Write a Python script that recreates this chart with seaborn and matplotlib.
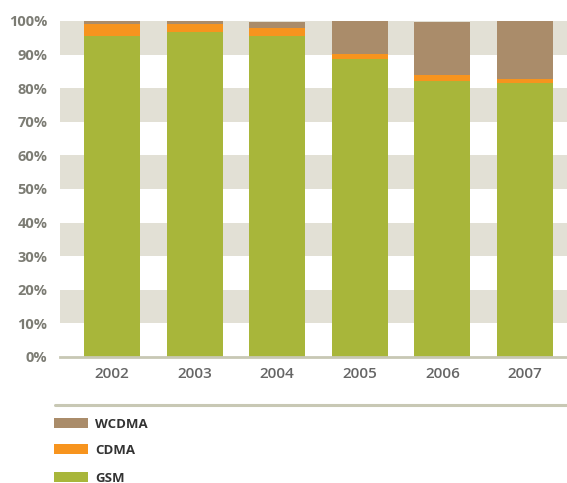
import matplotlib
matplotlib.use("Agg")
import matplotlib.pyplot as plt
import seaborn as sns
import pandas as pd
import numpy as np
from matplotlib.patches import Rectangle
from matplotlib.lines import Line2D

years = ["2002", "2003", "2004", "2005", "2006", "2007"]
gsm = [95.6, 96.7, 95.6, 88.7, 82.0, 81.6]
cdma = [3.5, 2.4, 2.3, 1.5, 2.0, 1.2]
wcdma = [0.9, 0.9, 1.8, 9.8, 15.7, 17.2]
series_names = ["WCDMA", "CDMA", "GSM"]
colors = {"GSM": "#a8b63a", "CDMA": "#f7941e", "WCDMA": "#aa8c6a"}
yticks = [0, 10, 20, 30, 40, 50, 60, 70, 80, 90, 100]

sns.set_style("white")
plt.rcParams['font.family'] = ['Open Sans', 'DejaVu Sans']

df = pd.DataFrame({"year": years, "GSM": gsm, "CDMA": cdma, "WCDMA": wcdma})
df["c_gsm"] = df["GSM"]
df["c_cdma"] = df["GSM"] + df["CDMA"]
df["c_wcdma"] = df["c_cdma"] + df["WCDMA"]

fig = plt.figure(figsize=(5.67, 4.83), dpi=100)
ax = fig.add_axes([60/567, 1-357/483, 1-60/567, (357-21)/483])

# bands
for lo in range(10, 100, 20):
    ax.axhspan(lo, lo + 10, color="#e2e0d5", zorder=0, lw=0)

for col, name in [("c_wcdma", "WCDMA"), ("c_cdma", "CDMA"), ("c_gsm", "GSM")]:
    sns.barplot(data=df, x="year", y=col, color=colors[name], width=0.68,
                saturation=1, ax=ax, zorder=2, edgecolor="none", linewidth=0)

ax.set_xlim(-0.63, 5.51)
ax.set_ylim(0, 100)
ax.set_yticks(yticks)
ax.set_yticklabels([f"{v}%" for v in yticks], color="#7c7c74", fontsize=10.5, fontweight="bold")
ax.tick_params(axis="x", labelsize=11, length=0, pad=7)
ax.tick_params(axis="y", length=0, pad=9)
for lab in ax.get_xticklabels():
    lab.set_color("#666666")
    lab.set_fontweight("semibold")
ax.set_xlabel("")
ax.set_ylabel("")
for s in ["top", "right", "left"]:
    ax.spines[s].set_visible(False)
ax.spines["bottom"].set_color("#c8c8b4")
ax.spines["bottom"].set_linewidth(2)
ax.spines["bottom"].set_zorder(5)

# separator line
fig.add_artist(Line2D([55/567, 1.0], [1-405/483, 1-405/483], color="#c8c8b4", lw=2.2,
                      transform=fig.transFigure))

# legend
leg_y = [423, 449, 477]
for name, yc in zip(series_names, leg_y):
    fig.add_artist(Rectangle((54/567, 1-(yc+5)/483), 34/567, 10/483,
                             color=colors[name], transform=fig.transFigure, lw=0))
    fig.text(95/567, 1-(yc+1)/483, name, va="center", ha="left", fontsize=9.5,
             fontweight="bold", color="#333333")

fig.savefig("out.png", dpi=100)
